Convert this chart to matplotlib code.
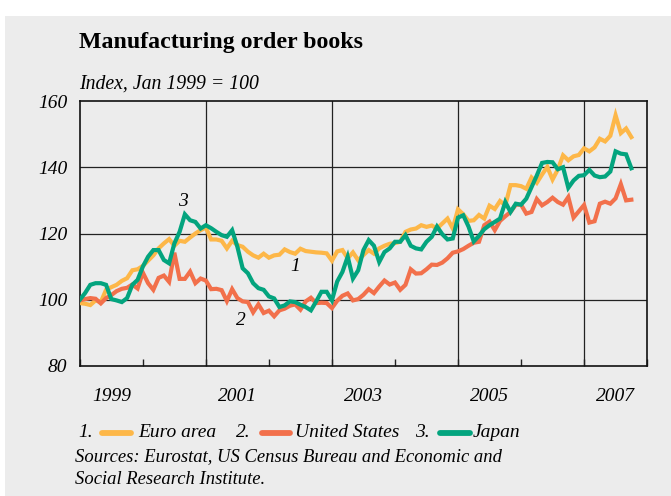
import numpy as np
import matplotlib
matplotlib.use("Agg")
import matplotlib.pyplot as plt
from matplotlib.patches import Rectangle
from matplotlib.lines import Line2D

plt.rcParams['font.family'] = ['Liberation Serif', 'DejaVu Serif']

# ---------------- data ----------------
title = "Manufacturing order books"
subtitle = "Index, Jan 1999 = 100"
source_lines = ["Sources: Eurostat, US Census Bureau and Economic and",
                "Social Research Institute."]
series_names = ["Euro area", "United States", "Japan"]
series_numbers = ["1", "2", "3"]
start_year = 1999

euro = [99.0, 98.8, 98.4, 99.8, 99.3, 103.0, 103.8, 104.5, 105.7, 106.5,
        108.9, 109.2, 110.2, 111.8, 113.4, 115.5, 117.0, 118.3, 116.3, 117.8,
        117.5, 118.8, 120.0, 121.0, 121.8, 118.2, 118.2, 117.8, 115.5, 117.8,
        116.5, 116.0, 114.5, 113.4, 112.7, 113.9, 112.7, 113.4, 113.6, 115.2,
        114.4, 113.9, 115.4, 114.7, 114.5, 114.3, 114.2, 114.0, 111.8, 114.6,
        115.0, 112.5, 114.3, 111.9, 113.5, 115.0, 113.9, 115.5, 116.3, 116.9,
        117.1, 117.5, 120.5, 121.2, 121.5, 122.5, 122.0, 122.4, 121.5, 123.0,
        124.5, 121.5, 127.3, 125.8, 123.8, 124.0, 125.6, 124.5, 128.4, 127.4,
        129.8, 128.5, 134.6, 134.6, 134.3, 133.5, 136.9, 135.3, 137.8, 140.1,
        136.3, 139.3, 143.6, 142.1, 143.3, 143.7, 145.7, 144.8, 146.0, 148.6,
        147.8, 149.5, 155.7, 150.3, 151.7, 149.1]

us = [99.8, 100.2, 100.5, 100.3, 98.9, 100.5, 101.4, 102.6, 103.3, 103.6,
      104.6, 103.4, 108.2, 105.0, 103.0, 106.6, 107.3, 105.4, 114.2, 106.3,
      106.3, 108.5, 105.0, 106.4, 105.8, 103.2, 103.3, 102.9, 99.6, 103.2,
      100.5, 99.5, 99.3, 96.2, 98.6, 96.0, 96.7, 95.0, 96.8, 97.3,
      98.2, 98.6, 97.0, 99.5, 100.6, 99.0, 99.1, 99.0, 97.5, 99.7,
      101.2, 101.9, 99.8, 100.2, 101.5, 103.2, 102.0, 104.0, 105.8, 104.6,
      105.2, 103.0, 104.5, 109.2, 107.9, 108.0, 109.2, 110.6, 110.5, 111.2,
      112.5, 114.2, 114.6, 115.3, 116.3, 117.2, 117.5, 122.5, 123.6, 121.0,
      123.8, 125.2, 126.5, 128.7, 128.7, 126.0, 126.5, 130.4, 128.5, 129.5,
      130.8, 129.5, 128.7, 131.0, 124.8, 126.7, 128.6, 123.3, 123.7, 129.0,
      129.6, 129.0, 130.6, 134.9, 130.0, 130.2]

japan = [100.0, 102.0, 104.5, 105.0, 105.0, 104.5, 100.2, 99.8, 99.3, 100.5,
         104.5, 106.0, 110.0, 113.0, 115.0, 115.0, 112.0, 111.0, 117.0, 120.5,
         125.8, 124.0, 123.5, 121.5, 122.5, 121.6, 120.5, 119.5, 119.0, 121.0,
         116.0, 109.5, 108.0, 105.0, 103.5, 103.0, 101.0, 100.4, 97.8, 98.3,
         99.5, 99.3, 98.5, 97.8, 96.8, 99.5, 102.4, 102.4, 99.8, 105.5,
         108.4, 113.0, 106.4, 108.9, 115.0, 118.0, 116.3, 111.4, 114.4, 115.5,
         117.5, 117.5, 119.5, 116.3, 115.5, 115.2, 117.5, 119.0, 122.1, 119.8,
         118.2, 118.5, 124.8, 125.5, 122.1, 117.6, 119.3, 121.3, 122.5, 123.5,
         124.5, 129.5, 126.5, 129.0, 128.7, 130.5, 134.0, 137.5, 141.3, 141.6,
         141.5, 139.4, 140.0, 133.8, 136.0, 137.4, 137.6, 139.2, 137.5, 137.0,
         137.2, 138.7, 144.8, 144.1, 143.9, 139.7]

y_ticks = [80, 100, 120, 140, 160]
y_grid = [100, 120, 140]
x_grid = [2001, 2003, 2005, 2007]
year_labels = ["1999", "2001", "2003", "2005", "2007"]
label_years = [1999, 2001, 2003, 2005, 2007]
year_ticks = list(range(1999, 2009))
annot_text = ["3", "1", "2"]
annot_pos = [(2000.64, 129.7), (2002.42, 110.1), (2001.55, 93.8)]

colors = ["#FDB748", "#F2704B", "#03A47E"]
BG = "#ececec"

# ---------------- figure ----------------
W, H = 671, 496
fig = plt.figure(figsize=(W / 100, H / 100), dpi=100)
fig.patch.set_facecolor("white")


def fx(x):
    return x / W


def fy(y):
    return 1 - y / H


fig.patches.append(Rectangle((fx(5), 0), 1, fy(16), transform=fig.transFigure,
                             facecolor=BG, edgecolor="none", zorder=-10))

L, R, T, B = 79.8, 647.1, 101, 366
ax = fig.add_axes([fx(L), fy(B), fx(R) - fx(L), fy(T) - fy(B)])
ax.set_facecolor(BG)

months = np.arange(len(euro))
xs = start_year + months / 12.0

for yv in y_grid:
    ax.axhline(yv, color="#222222", lw=0.9, zorder=1)
for xv in x_grid:
    ax.axvline(xv, color="#222222", lw=0.9, zorder=1)

for vals, c in zip([euro, us, japan], colors):
    ax.plot(xs, vals, color=c, lw=3.0, solid_joinstyle="miter", zorder=3)

ax.set_xlim(1999, 2008)
ax.set_ylim(80, 160)

ax.set_yticks(y_ticks)
ax.set_yticklabels([str(v) for v in y_ticks], fontstyle="italic", fontsize=14)
ax.tick_params(axis="y", length=0, pad=9)

ax.set_xticks(year_ticks)
ax.set_xticklabels([])
ax.tick_params(axis="x", which="major", direction="in", length=5, width=1, color="#222222")
ax.set_xticks([y + 0.5 for y in label_years], minor=True)
ax.set_xticklabels(year_labels, minor=True, fontstyle="italic", fontsize=14)
ax.tick_params(axis="x", which="minor", length=0, pad=16)

for s in ax.spines.values():
    s.set_color("#111111")
    s.set_linewidth(1.2)

for t, (xa, ya) in zip(annot_text, annot_pos):
    ax.text(xa, ya, t, fontstyle="italic", fontsize=14, ha="center", va="center", zorder=4)

# titles
fig.text(fx(79), fy(48), title, fontweight="bold", fontsize=17.2, ha="left", va="baseline")
fig.text(fx(79), fy(89), subtitle, fontstyle="italic", fontsize=14.2, ha="left", va="baseline")

# legend
num_x = [78, 236, 415]
line_x = [(102, 131), (262, 290), (440, 470)]
lab_x = [138, 295, 473]
ly = 432.5
for n, (a, b), lx, name, c, num in zip(num_x, line_x, lab_x, series_names, colors, series_numbers):
    fig.text(fx(n), fy(ly), num + ".", fontsize=14, fontstyle="italic", ha="left", va="center")
    fig.lines.append(Line2D([fx(a), fx(b)], [fy(ly), fy(ly)], transform=fig.transFigure,
                            color=c, lw=4.2, solid_capstyle="round"))
    fig.text(fx(lx), fy(ly), name, fontsize=14, fontstyle="italic", ha="left", va="center")

for k, line in enumerate(source_lines):
    fig.text(fx(75), fy(461.5 + 23 * k), line, fontsize=13.4, fontstyle="italic",
             ha="left", va="baseline")

fig.savefig("out.png", dpi=100, facecolor=fig.get_facecolor())
